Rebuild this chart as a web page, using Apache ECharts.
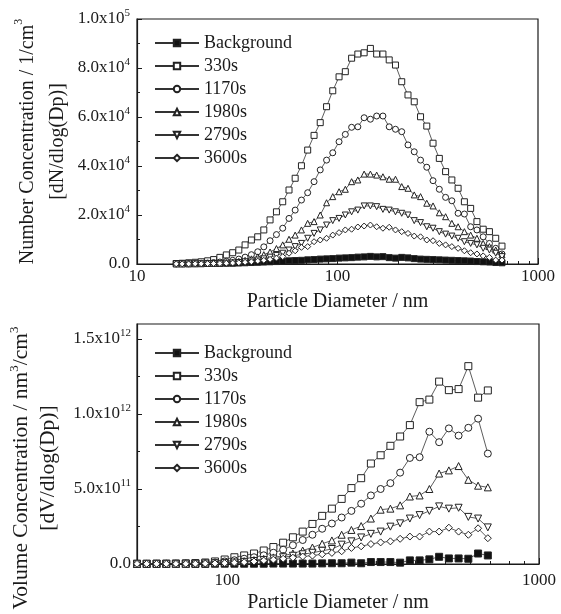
<!DOCTYPE html>
<html><head><meta charset="utf-8">
<script src="https://cdn.jsdelivr.net/npm/echarts@6/dist/echarts.min.js"></script>
<style>html,body{margin:0;padding:0;background:#fff}#c{width:561px;height:614px}</style>
</head><body><div id="c"></div>
<script>
// ---------- Top panel: number concentration (values in units of 1e3 /cm3) ----------
const dpNumber = [15.7, 16.8, 18.1, 19.5, 20.9, 22.5, 24.1, 25.9, 27.9, 30.0, 32.2, 34.6, 37.2, 40.0, 42.9, 46.1, 49.6, 53.3, 57.3, 61.5, 66.1, 71.0, 76.4, 82.0, 88.2, 94.7, 101.8, 109.4, 117.6, 126.3, 135.8, 145.9, 156.8, 168.5, 181.1, 194.6, 209.1, 224.7, 241.4, 259.5, 278.8, 299.6, 322.0, 346.0, 371.8, 399.5, 429.4, 461.4, 495.8, 532.8, 572.5, 615.3, 661.2];
const numBackground = [0.1, 0.1, 0.1, 0.15, 0.15, 0.2, 0.2, 0.25, 0.3, 0.3, 0.4, 0.5, 0.6, 0.7, 0.8, 0.9, 1.0, 1.1, 1.3, 1.4, 1.5, 1.7, 1.8, 2.0, 2.1, 2.2, 2.4, 2.5, 2.6, 2.8, 2.9, 3.1, 2.9, 3.0, 2.6, 2.4, 2.7, 2.5, 2.2, 2.0, 1.9, 1.8, 1.7, 1.6, 1.5, 1.4, 1.3, 1.2, 1.0, 0.9, 0.8, 0.6, 0.5];
const num330 = [0.2, 0.3, 0.5, 0.7, 0.9, 1.3, 1.8, 2.7, 3.7, 4.6, 5.7, 7.8, 9.8, 11.1, 13.9, 18.0, 21.3, 25.4, 30.2, 35.0, 40.1, 46.5, 52.5, 57.7, 64.2, 70.7, 76.4, 78.5, 84.0, 85.7, 86.2, 88.0, 85.7, 85.7, 83.3, 81.2, 74.4, 69.0, 66.2, 60.1, 56.3, 49.3, 43.1, 37.7, 34.3, 30.9, 25.4, 22.7, 17.3, 14.2, 13.2, 10.5, 7.3];
const num1170 = [0.05, 0.1, 0.1, 0.2, 0.3, 0.4, 0.6, 0.8, 1.1, 1.5, 2.0, 2.8, 3.8, 5.0, 7.0, 9.5, 12.0, 14.6, 18.6, 22.0, 26.1, 29.1, 33.6, 38.4, 42.4, 45.4, 49.9, 52.9, 55.8, 56.0, 59.7, 59.1, 60.4, 60.4, 56.0, 55.0, 54.0, 48.6, 45.8, 42.4, 39.5, 34.0, 30.5, 27.2, 25.8, 20.7, 20.4, 15.2, 13.9, 11.1, 8.4, 6.4, 4.1];
const num1980 = [0.05, 0.05, 0.1, 0.1, 0.15, 0.2, 0.3, 0.4, 0.6, 0.8, 1.1, 1.5, 2.1, 2.9, 3.8, 4.9, 6.3, 7.8, 10.1, 11.8, 13.9, 16.6, 17.3, 20.0, 25.0, 27.5, 29.5, 30.5, 33.6, 34.3, 36.7, 36.7, 36.3, 35.6, 34.6, 34.6, 31.6, 30.9, 28.2, 27.5, 24.8, 23.7, 20.9, 19.3, 16.6, 15.2, 13.2, 11.8, 10.5, 8.4, 7.1, 5.7, 3.7];
const num2790 = [0.05, 0.05, 0.05, 0.1, 0.1, 0.15, 0.2, 0.25, 0.3, 0.45, 0.6, 0.9, 1.2, 1.6, 2.1, 2.8, 3.5, 4.4, 5.7, 7.1, 8.4, 10.5, 12.5, 13.9, 15.9, 17.7, 18.6, 20.0, 21.3, 22.0, 23.7, 23.7, 23.4, 22.3, 22.0, 21.3, 20.7, 20.0, 17.7, 16.9, 15.2, 14.6, 13.2, 12.2, 11.4, 10.5, 9.1, 8.4, 7.8, 6.4, 5.7, 4.4, 3.0];
const num3600 = [0.05, 0.05, 0.05, 0.1, 0.1, 0.15, 0.2, 0.2, 0.3, 0.4, 0.5, 0.7, 0.9, 1.2, 1.5, 1.9, 2.4, 3.0, 4.4, 5.4, 6.8, 7.1, 9.1, 9.8, 10.5, 11.8, 12.8, 13.9, 14.2, 15.1, 15.5, 15.9, 15.2, 14.6, 15.0, 13.9, 13.2, 12.5, 11.4, 11.1, 9.8, 9.5, 8.4, 7.8, 7.1, 6.4, 5.4, 4.6, 4.1, 3.3, 2.7, 1.6, 1.6];

// ---------- Bottom panel: volume concentration (values in units of 1e11 nm3/cm3) ----------
const dpVolume = [51.4, 55.2, 59.4, 63.8, 68.5, 73.7, 79.1, 85.1, 91.4, 98.2, 105.5, 113.4, 121.9, 131.0, 140.7, 151.2, 162.5, 174.7, 187.7, 201.7, 216.7, 232.9, 250.3, 269.0, 289.0, 310.6, 333.8, 358.7, 385.4, 414.2, 445.1, 478.3, 514.0, 552.3, 593.5, 637.8, 685.4];
const volBackground = [0.01, 0.01, 0.01, 0.01, 0.01, 0.01, 0.01, 0.01, 0.02, 0.02, 0.02, 0.02, 0.02, 0.02, 0.03, 0.03, 0.03, 0.03, 0.03, 0.04, 0.05, 0.05, 0.09, 0.05, 0.13, 0.13, 0.13, 0.09, 0.24, 0.24, 0.31, 0.48, 0.37, 0.37, 0.35, 0.70, 0.57];
const vol330 = [0.01, 0.01, 0.02, 0.02, 0.03, 0.04, 0.06, 0.1, 0.17, 0.3, 0.45, 0.57, 0.7, 0.9, 1.13, 1.42, 1.78, 2.16, 2.67, 3.21, 3.69, 4.34, 5.06, 5.72, 6.70, 7.25, 7.88, 8.50, 9.26, 10.79, 10.96, 12.16, 11.59, 11.66, 13.19, 11.09, 11.57];
const vol1170 = [0.01, 0.01, 0.01, 0.02, 0.02, 0.03, 0.04, 0.06, 0.1, 0.17, 0.25, 0.35, 0.45, 0.58, 0.75, 0.95, 1.25, 1.6, 1.95, 2.35, 2.7, 3.1, 3.54, 4.02, 4.57, 5.00, 5.39, 6.09, 7.07, 7.12, 8.82, 8.12, 9.04, 8.56, 9.08, 9.69, 7.36];
const vol1980 = [0.01, 0.01, 0.01, 0.01, 0.02, 0.02, 0.03, 0.04, 0.06, 0.1, 0.14, 0.19, 0.26, 0.34, 0.44, 0.55, 0.7, 0.9, 1.1, 1.35, 1.57, 1.95, 2.27, 2.53, 3.03, 3.62, 3.69, 3.91, 4.50, 4.57, 5.00, 6.03, 6.24, 6.53, 5.61, 5.22, 5.11];
const vol2790 = [0.01, 0.01, 0.01, 0.01, 0.01, 0.02, 0.02, 0.03, 0.05, 0.07, 0.1, 0.14, 0.2, 0.27, 0.36, 0.45, 0.55, 0.65, 0.75, 0.88, 1.00, 1.29, 1.51, 1.77, 2.01, 2.16, 2.49, 2.71, 3.03, 3.26, 3.54, 3.84, 3.69, 3.75, 3.14, 3.03, 2.44];
const vol3600 = [0.01, 0.01, 0.01, 0.01, 0.01, 0.01, 0.02, 0.03, 0.04, 0.06, 0.09, 0.12, 0.17, 0.23, 0.29, 0.35, 0.42, 0.5, 0.56, 0.65, 0.74, 0.85, 1.07, 1.18, 1.33, 1.44, 1.51, 1.68, 1.83, 1.83, 2.16, 2.16, 2.42, 2.16, 1.95, 2.38, 1.72];

// ---------- Ticks ----------
const topMajorX = [10, 100, 1000];
const topMinorX = [20, 30, 40, 50, 60, 70, 80, 90, 200, 300, 400, 500, 600, 700, 800, 900];
const botMajorX = [100, 1000];
const botMinorX = [60, 70, 80, 90, 200, 300, 400, 500, 600, 700, 800, 900];
const botMajorY = [0, 5, 10, 15];
const botMinorY = [2.5, 7.5, 12.5];
const seriesNames = ['Background', '330s', '1170s', '1980s', '2790s', '3600s'];

const FONT = 'Liberation Serif';
const INK = '#1a1a1a';
const LINE = '#333';

const symbols = [
  {symbol: 'rect', rotate: 0, fill: '#111'},
  {symbol: 'rect', rotate: 0, fill: '#fff'},
  {symbol: 'circle', rotate: 0, fill: '#fff'},
  {symbol: 'triangle', rotate: 0, fill: '#fff'},
  {symbol: 'triangle', rotate: 180, fill: '#fff'},
  {symbol: 'diamond', rotate: 0, fill: '#fff'}
];

function sci(v, scale) {
  if (v === 0) return '{b|0.0}';
  const val = v * scale;
  const e = Math.floor(Math.log10(val) + 1e-9);
  const m = (val / Math.pow(10, e)).toFixed(1);
  return '{b|' + m + 'x10}{s|' + e + '}';
}
const tickRich = {
  b: {fontSize: 17, fontFamily: FONT, color: INK, lineHeight: 22},
  s: {fontSize: 11, fontFamily: FONT, color: INK, verticalAlign: 'top', lineHeight: 11}
};
function nameStyle(size, lh, extra) {
  return Object.assign({
    fontSize: size, fontFamily: FONT, color: INK, lineHeight: lh,
    rich: {sup: {fontSize: Math.round(size * 0.6), fontFamily: FONT, color: INK, verticalAlign: 'top', lineHeight: 12}}
  }, extra || {});
}

function makeSeries(name, idx, dp, vals, xi, yi, size) {
  const s = symbols[idx];
  return {
    name: name, type: 'line', xAxisIndex: xi, yAxisIndex: yi,
    data: dp.map((d, i) => [d, vals[i]]),
    symbol: s.symbol, symbolRotate: s.rotate, symbolSize: size,
    showAllSymbol: true,
    lineStyle: {color: LINE, width: 0.8},
    itemStyle: {color: s.fill, borderColor: '#222', borderWidth: 1},
    emphasis: {disabled: true},
    animation: false
  };
}

const topSets = [numBackground, num330, num1170, num1980, num2790, num3600];
const botSets = [volBackground, vol330, vol1170, vol1980, vol2790, vol3600];
const series = [];
seriesNames.forEach((n, i) => series.push(makeSeries(n, i, dpNumber, topSets[i], 0, 0, 6)));
seriesNames.forEach((n, i) => series.push(makeSeries(n, i, dpVolume, botSets[i], 2, 1, 7)));

const axisLineStyle = {color: INK, width: 1.2};
const tickLine = {color: INK, width: 1};
function majorX(grid, min, max, ticks, margin, gap) {
  return {
    type: 'log', logBase: 10, gridIndex: grid, min: min, max: max, position: 'bottom',
    axisLine: {show: true, lineStyle: axisLineStyle},
    axisTick: {show: true, inside: true, length: 6, customValues: ticks, lineStyle: tickLine},
    axisLabel: {customValues: ticks, formatter: v => String(Math.round(v)), fontSize: 17, fontFamily: FONT, color: INK, margin: margin},
    splitLine: {show: false}, minorTick: {show: false},
    name: 'Particle Diameter / nm', nameLocation: 'middle', nameGap: gap, nameMoveOverlap: false,
    nameTextStyle: {fontSize: 20, fontFamily: FONT, color: INK}
  };
}
function minorX(grid, min, max, ticks) {
  return {
    type: 'log', logBase: 10, gridIndex: grid, min: min, max: max, position: 'bottom',
    axisLine: {show: false},
    axisTick: {show: true, inside: true, length: 3, customValues: ticks, lineStyle: tickLine},
    axisLabel: {show: false}, splitLine: {show: false}
  };
}
function legendAt(top) {
  return {
    data: seriesNames, orient: 'vertical', left: 154, top: top, padding: 0,
    itemWidth: 44, itemHeight: 8, itemGap: 5,
    textStyle: {fontSize: 18, fontFamily: FONT, color: INK}, selectedMode: false
  };
}

const option = {
  animation: false,
  backgroundColor: '#fff',
  grid: [
    {left: 137, top: 19, width: 401, height: 245, show: true, borderColor: INK, borderWidth: 1.2, backgroundColor: 'transparent'},
    {left: 137, top: 324, width: 402, height: 244, show: true, borderColor: INK, borderWidth: 1.2, backgroundColor: 'transparent'}
  ],
  xAxis: [
    majorX(0, 10, 1000, topMajorX, 4, 28),
    minorX(0, 10, 1000, topMinorX),
    majorX(1, 51.4, 1000, botMajorX, 8, 29),
    minorX(1, 51.4, 1000, botMinorX)
  ],
  yAxis: [
    {
      type: 'value', gridIndex: 0, min: 0, max: 100, interval: 20, position: 'left',
      axisLine: {show: true, lineStyle: axisLineStyle},
      axisTick: {show: true, inside: true, length: 5, lineStyle: tickLine},
      minorTick: {show: true, splitNumber: 2, length: 3, lineStyle: tickLine},
      axisLabel: {formatter: v => sci(v, 1e3), rich: tickRich, margin: 7},
      splitLine: {show: false},
      name: 'Number Concentration / 1/cm{sup|3}\n[dN/dlog(Dp)]',
      nameLocation: 'middle', nameRotate: 90, nameGap: 64, nameMoveOverlap: false,
      nameTextStyle: nameStyle(20, 30)
    },
    {
      type: 'value', gridIndex: 1, min: 0, max: 16, position: 'left',
      axisLine: {show: true, lineStyle: axisLineStyle},
      axisTick: {show: true, inside: true, length: 5, lineStyle: tickLine, customValues: botMajorY},
      axisLabel: {formatter: v => sci(v, 1e11), rich: tickRich, margin: 6, customValues: botMajorY},
      splitLine: {show: false},
      name: 'Volume Concentration / nm{sup|3}/cm{sup|3}\n[dV/dlog(Dp)]',
      nameLocation: 'middle', nameRotate: 90, nameGap: 75, nameMoveOverlap: false,
      nameTextStyle: nameStyle(21.5, 27, {padding: [0, 48, 0, 0]})
    },
    {
      type: 'value', gridIndex: 1, min: 0, max: 16, position: 'left',
      axisLine: {show: false},
      axisTick: {show: true, inside: true, length: 3, lineStyle: tickLine, customValues: botMinorY},
      axisLabel: {show: false}, splitLine: {show: false}
    }
  ],
  legend: [legendAt(34), legendAt(344)],
  series: series
};

const chart = echarts.init(document.getElementById('c'), null, {renderer: 'canvas'});
chart.setOption(option);
</script>
</body></html>
